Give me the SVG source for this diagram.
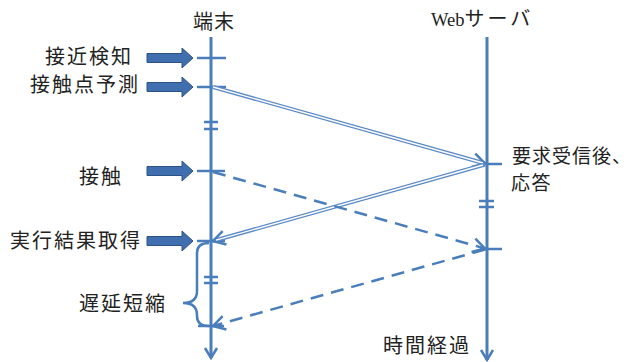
<svg xmlns="http://www.w3.org/2000/svg" width="632" height="362" viewBox="0 0 632 362">
<defs>
<style>
.txt{font-family:"Noto Sans CJK JP","Noto Sans",sans-serif;font-size:20px;fill:#222;letter-spacing:2px}
.axis{stroke:#4A7EBB;stroke-width:3;fill:none}
.tick{stroke:#4A7EBB;stroke-width:2.5;fill:none}
.blk{fill:#3F6FAE;stroke:#2C5384;stroke-width:1}
.dbl{stroke:#5B8AC6;stroke-width:4;fill:none}
.dblin{stroke:#fff;stroke-width:1.3;fill:none}
.dash{stroke:#4A7EBB;stroke-width:2.5;stroke-dasharray:13 8;fill:none}
</style>
<marker id="chev" markerUnits="userSpaceOnUse" viewBox="-14 -9 16 18" markerWidth="16" markerHeight="18" refX="0" refY="0" orient="auto">
<path d="M-12,-7 L0,0 L-12,7" fill="none" stroke="#4A7EBB" stroke-width="2.5" stroke-linejoin="miter"/>
</marker>
<marker id="chevA" markerUnits="userSpaceOnUse" viewBox="-14 -9 16 18" markerWidth="16" markerHeight="18" refX="0" refY="0" orient="auto">
<path d="M-10,-6 L0,0 L-10,6" fill="none" stroke="#4A7EBB" stroke-width="2.5"/>
</marker>
</defs>

<g id="terminal">
<text class="txt" x="193" y="29" style="letter-spacing:1px">端末</text>
<line class="axis" x1="211" y1="37" x2="211" y2="358" marker-end="url(#chevA)"/>
<line class="tick" x1="197" y1="58" x2="226" y2="58"/>
<line class="tick" x1="197" y1="87" x2="226" y2="87"/>
<line class="tick" x1="204" y1="122" x2="218" y2="122"/>
<line class="tick" x1="204" y1="129" x2="218" y2="129"/>
<line class="tick" x1="197" y1="171" x2="225" y2="171"/>
<line class="tick" x1="197" y1="241" x2="225" y2="241"/>
<line class="tick" x1="204" y1="277" x2="218" y2="277"/>
<line class="tick" x1="204" y1="283" x2="218" y2="283"/>
<line class="tick" x1="198" y1="326" x2="224" y2="326"/>
</g>

<g id="server">
<text x="431" y="26" style="font-family:'Noto Sans CJK JP',sans-serif;font-size:20px;fill:#222"><tspan style="font-family:'Liberation Serif',serif;font-size:18.5px">Web</tspan><tspan style="letter-spacing:3px">サーバ</tspan></text>
<line class="axis" x1="487" y1="37" x2="487" y2="360" marker-end="url(#chevA)"/>
<line class="tick" x1="480" y1="164" x2="502" y2="164"/>
<line class="tick" x1="479" y1="201" x2="494" y2="201"/>
<line class="tick" x1="479" y1="207" x2="494" y2="207"/>
<line class="tick" x1="480" y1="249" x2="502" y2="249"/>
</g>

<g id="events">
<path class="blk" d="M147,53.5 H182 V48 L193,58 L182,68 V62.5 H147 Z"/>
<path class="blk" d="M147,82.5 H182 V77 L193,87 L182,97 V91.5 H147 Z"/>
<path class="blk" d="M147,166.5 H182 V161 L193,171 L182,181 V175.5 H147 Z"/>
<path class="blk" d="M147,236.5 H182 V231 L193,241 L182,251 V245.5 H147 Z"/>
<text class="txt" x="45" y="64">接近検知</text>
<text class="txt" x="30" y="92">接触点予測</text>
<text class="txt" x="79" y="184">接触</text>
<text class="txt" x="10" y="248">実行結果取得</text>
<text class="txt" x="79" y="311">遅延短縮</text>
<text class="txt" x="512" y="163" style="font-size:19px;letter-spacing:1px">要求受信後、</text>
<text class="txt" x="511" y="190" style="font-size:19px;letter-spacing:1.5px">応答</text>
<text class="txt" x="383" y="353">時間経過</text>
</g>

<g id="brace">
<path d="M209,243 C201,243 197,246 197,253 V291 C197,299 192,303 183,303 C192,303 197,307 197,315 V316 C197,323 201,326 209,326" fill="none" stroke="#4A7EBB" stroke-width="2.5"/>
</g>

<g id="connectors">
<line class="dbl" x1="213" y1="87" x2="485" y2="163.5" marker-end="url(#chev)"/>
<line class="dblin" x1="213" y1="87" x2="483" y2="163"/>
<line class="dbl" x1="485" y1="164.5" x2="213" y2="241" marker-end="url(#chev)"/>
<line class="dblin" x1="483" y1="165" x2="216" y2="240.2"/>
<line class="dash" x1="213" y1="172" x2="485" y2="248.5" marker-end="url(#chev)"/>
<line class="dash" x1="485" y1="249.5" x2="213" y2="326" marker-end="url(#chev)"/>
</g>
</svg>
